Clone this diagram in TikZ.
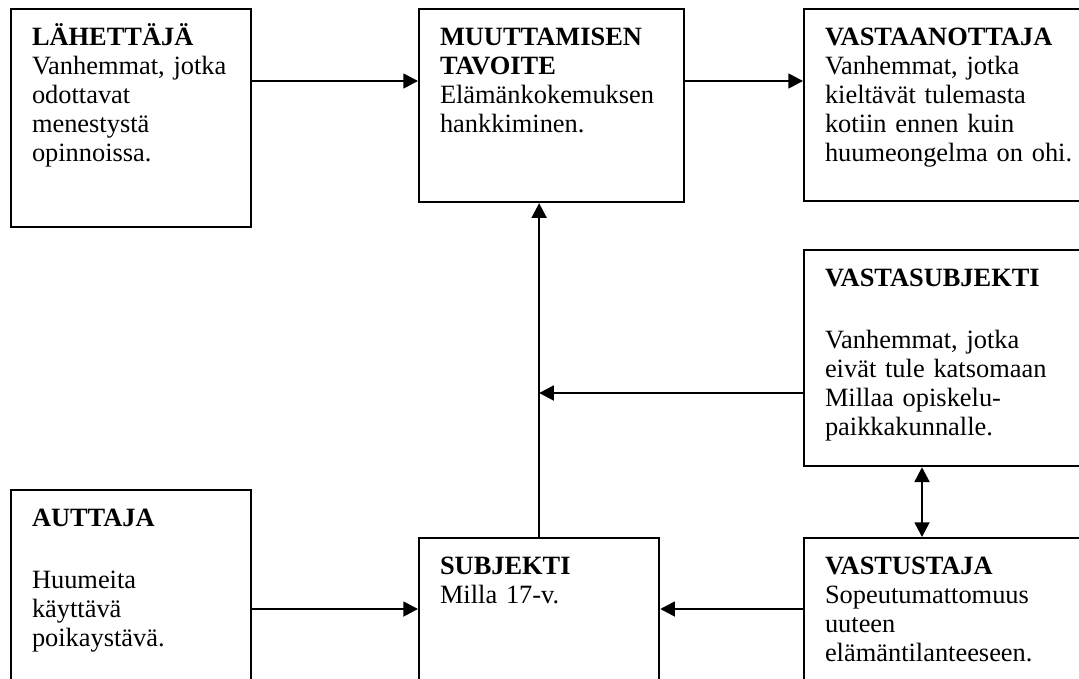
\documentclass[tikz,border=0pt]{standalone}
\usepackage{fontspec}
\setmainfont{Liberation Serif}
\usetikzlibrary{arrows.meta}

\begin{document}
\begin{tikzpicture}[
    x=0.4545pt, y=-0.4545pt,
    laatikko/.style={draw, line width=1pt, anchor=north west, align=left, inner xsep=9.5pt, inner ysep=0pt, text height=16.4pt, font=\fontsize{12pt}{13.2pt}\selectfont},
    nuoli/.style={line width=0.9pt, -{Triangle[length=6.7pt,width=6.8pt]}},
    kaksinuoli/.style={line width=0.9pt, {Triangle[length=6.7pt,width=6.8pt]}-{Triangle[length=6.7pt,width=6.8pt]}}
  ]
    \useasboundingbox (0,0) rectangle (1079,679);
    \clip (0,0) rectangle (1079,679);

    % ylarivi
    \node[laatikko, text width=90.1pt, text depth=82.7pt] (lahettaja) at (10,8) {\textbf{LÄHETTÄJÄ}\\Vanhemmat, jotka\\odottavat\\menestystä\\opinnoissa.};
    \node[laatikko, text width=101.4pt, text depth=71.3pt] (tavoite) at (418,8) {\textbf{MUUTTAMISEN}\\\textbf{TAVOITE}\\Elämänkokemuksen\\hankkiminen.};
    \node[laatikko, text width=117.4pt, text depth=70.9pt] (vastaanottaja) at (803,8) {\textbf{VASTAANOTTAJA}\\Vanhemmat, jotka\\kieltävät tulemasta\\kotiin ennen kuin\\huumeongelma on ohi.};

    % keskirivi
    \node[laatikko, text width=117.4pt, text depth=81.8pt] (vastasubjekti) at (803,249) {\textbf{VASTASUBJEKTI}\\[15pt]Vanhemmat, jotka\\eivät tule katsomaan\\Millaa opiskelu-\\paikkakunnalle.};

    % alarivi
    \node[laatikko, text width=90.1pt, text depth=88pt] (auttaja) at (10,489) {\textbf{AUTTAJA}\\[15pt]Huumeita\\käyttävä\\poikaystävä.};
    \node[laatikko, text width=90.1pt, text depth=65.4pt] (subjekti) at (418,537) {\textbf{SUBJEKTI}\\Milla 17-v.};
    \node[laatikko, text width=117.4pt, text depth=65.4pt] (vastustaja) at (803,537) {\textbf{VASTUSTAJA}\\Sopeutumattomuus\\uuteen\\elämäntilanteeseen.};

    \coordinate (ylinja) at (0,81);
    \coordinate (keskilinja) at (0,393);
    \coordinate (alalinja) at (0,609);
    \coordinate (parilinja) at (922,0);

    \draw[nuoli] (lahettaja.east |- ylinja) -- (tavoite.west |- ylinja);
    \draw[nuoli] (tavoite.east |- ylinja) -- (vastaanottaja.west |- ylinja);
    \draw[nuoli] (subjekti.north) -- (subjekti.north |- tavoite.south);
    \draw[nuoli] (vastasubjekti.west |- keskilinja) -- (subjekti.north |- keskilinja);
    \draw[kaksinuoli] (parilinja |- vastasubjekti.south) -- (parilinja |- vastustaja.north);
    \draw[nuoli] (auttaja.east |- alalinja) -- (subjekti.west |- alalinja);
    \draw[nuoli] (vastustaja.west |- alalinja) -- (subjekti.east |- alalinja);
  \end{tikzpicture}
\end{document}
